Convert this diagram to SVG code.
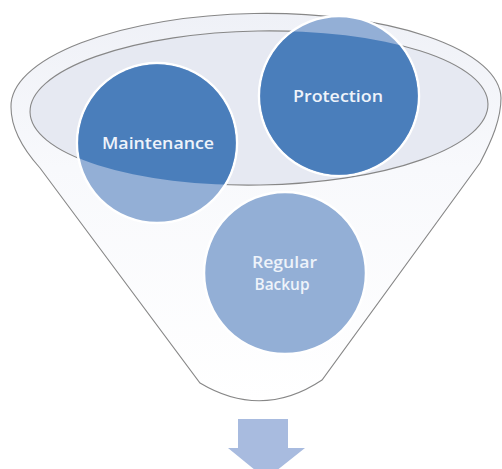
<svg xmlns="http://www.w3.org/2000/svg" width="502" height="469" viewBox="0 0 502 469">
  <style>
    .lbl { font-family: "Open Sans", "Liberation Sans", sans-serif; font-weight: 600; font-size: 17px; fill: #eef3fa; text-anchor: middle; }
    .outline { stroke: #878787; stroke-width: 1.1; }
    .circ-light { fill: #93afd6; stroke: #ffffff; stroke-width: 2.5; }
    .circ-dark { fill: #4a7ebb; }
  </style>
  <defs>
    <linearGradient id="funnelFill" x1="0" y1="0" x2="0" y2="1">
      <stop offset="0" stop-color="#eff1f7"/>
      <stop offset="0.4" stop-color="#f8f9fc"/>
      <stop offset="1" stop-color="#ffffff"/>
    </linearGradient>
    <clipPath id="innerClip">
      <ellipse cx="259" cy="108" rx="229" ry="77" transform="rotate(-1 259 108)"/>
    </clipPath>
  </defs>
  <rect width="502" height="469" fill="#ffffff"/>

  <g id="funnel">
    <path class="outline" fill="url(#funnelFill)" d="M 11,107 A 245 89 -1 0 1 501,98 C 501,119 492,140 480,163 L 322,380 Q 262,420 200,383 L 40,168 C 22,148 11,128 11,107 Z"/>
    <ellipse fill="none" stroke="#ffffff" stroke-width="3" cx="259" cy="108" rx="227" ry="75" transform="rotate(-1 259 108)"/>
    <ellipse class="outline" fill="#e6e9f2" cx="259" cy="108" rx="229" ry="77" transform="rotate(-1 259 108)"/>
  </g>

  <g id="connectors">
    <path id="arrow" fill="#a8bbdf" d="M 238,419 L 288,419 L 288,448 L 305,448 L 266,479 L 228,448 L 238,448 Z"/>
  </g>

  <g id="node-maintenance">
    <circle class="circ-light" cx="157" cy="143" r="80"/>
    <circle class="circ-dark" cx="157" cy="143" r="78.8" clip-path="url(#innerClip)"/>
    <text class="lbl" x="158" y="149" textLength="112" lengthAdjust="spacingAndGlyphs">Maintenance</text>
  </g>

  <g id="node-protection">
    <circle class="circ-light" cx="339" cy="96" r="80"/>
    <circle class="circ-dark" cx="339" cy="96" r="78.8" clip-path="url(#innerClip)"/>
    <text class="lbl" x="338" y="102" textLength="90" lengthAdjust="spacingAndGlyphs">Protection</text>
  </g>

  <g id="node-backup">
    <circle class="circ-light" cx="285" cy="273" r="81"/>
    <text class="lbl" x="284.5" y="268" textLength="65" lengthAdjust="spacingAndGlyphs">Regular</text>
    <text class="lbl" x="282" y="290" textLength="55" lengthAdjust="spacingAndGlyphs">Backup</text>
  </g>
</svg>
